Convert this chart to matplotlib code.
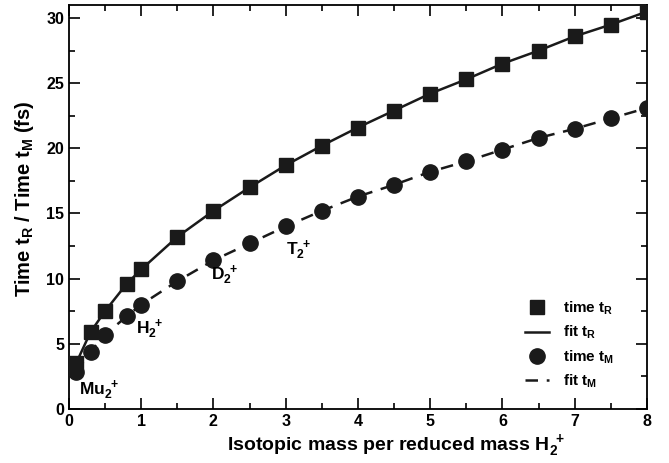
import matplotlib
matplotlib.use('Agg')
import matplotlib.pyplot as plt
from matplotlib.ticker import MultipleLocator

plt.rcParams['font.family'] = 'Liberation Sans'
plt.rcParams['font.weight'] = 'bold'
plt.rcParams['mathtext.fontset'] = 'custom'
plt.rcParams['mathtext.bf'] = 'Liberation Sans:bold'
plt.rcParams['mathtext.rm'] = 'Liberation Sans:bold'
plt.rcParams['mathtext.default'] = 'bf'

# isotopic mass ratio and times
mass = [0.1, 0.3, 0.5, 0.8, 1.0, 1.5, 2.0, 2.5, 3.0, 3.5, 4.0, 4.5, 5.0, 5.5, 6.0, 6.5, 7.0, 7.5, 8.0]
time_R = [3.5, 5.9, 7.5, 9.6, 10.7, 13.2, 15.2, 17.0, 18.7, 20.2, 21.6, 22.9, 24.2, 25.3, 26.5, 27.5, 28.6, 29.5, 30.5]
time_M = [2.8, 4.4, 5.7, 7.1, 8.0, 9.8, 11.4, 12.7, 14.0, 15.2, 16.3, 17.2, 18.2, 19.0, 19.9, 20.8, 21.5, 22.3, 23.1]

# isotope labels
iso_labels = ['Mu$_2^{\\;+}$', 'H$_2^{\\;+}$', 'D$_2^{\\;+}$', 'T$_2^{\\;+}$']
iso_x = [0.14, 0.93, 1.97, 3.0]
iso_y = [1.4, 6.1, 10.3, 12.2]

fig = plt.figure(figsize=(6.69, 4.63), dpi=100)
ax = fig.add_axes([0.103, 0.117, 0.864, 0.872])

ax.plot(mass, time_R, 's', color='#1a1a1a', markersize=10, label='time t$_R$', zorder=3)
ax.plot(mass, time_R, '-', color='#1a1a1a', linewidth=1.8, label='fit t$_R$')
ax.plot(mass, time_M, 'o', color='#1a1a1a', markersize=11, label='time t$_M$', zorder=3)
ax.plot(mass, time_M, '--', color='#1a1a1a', linewidth=1.8, dashes=(5, 3.5), label='fit t$_M$')

for lab, x, y in zip(iso_labels, iso_x, iso_y):
    ax.text(x, y, lab, fontsize=12.5, fontweight='bold', va='center', ha='left')

ax.set_xlim(0, 8)
ax.set_ylim(0, 31)
ax.xaxis.set_major_locator(MultipleLocator(1))
ax.xaxis.set_minor_locator(MultipleLocator(0.5))
ax.yaxis.set_major_locator(MultipleLocator(5))
ax.yaxis.set_minor_locator(MultipleLocator(2.5))
ax.tick_params(which='both', direction='in', top=True, right=True, labelsize=11.5, width=1.2)
ax.tick_params(which='major', length=8)
ax.tick_params(which='minor', length=4)
for s in ax.spines.values():
    s.set_linewidth(1.3)

ax.set_xlabel('Isotopic mass per reduced mass H$_2^{\\;+}$', fontsize=14, fontweight='bold')
ax.set_ylabel('Time t$_R$ / Time t$_M$ (fs)', fontsize=14.5, fontweight='bold')
ax.xaxis.set_label_coords(0.567, -0.058)
ax.yaxis.set_label_coords(-0.057, 0.52)

ax.legend(loc='lower right', bbox_to_anchor=(0.967, 0.013), frameon=False, numpoints=1,
          handlelength=1.6, fontsize=11, labelspacing=0.45, handletextpad=0.9)

plt.savefig('out.png', dpi=100)
